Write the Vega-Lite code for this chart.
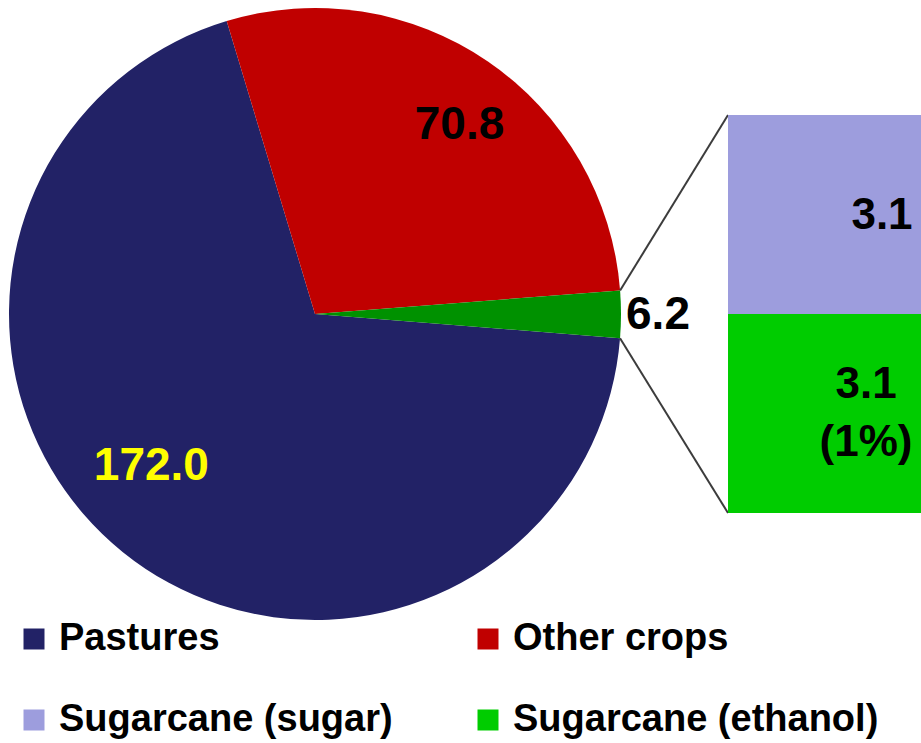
{
  "$schema": "https://vega.github.io/schema/vega-lite/v6.json",
  "width": 921,
  "height": 743,
  "autosize": "none",
  "padding": 0,
  "background": "white",
  "config": {"view": {"stroke": null}, "axis": {"disable": true}, "font": "Liberation Sans"},
  "datasets": {
    "pie": [
      {"category": "Pastures", "value": 172.0},
      {"category": "Other crops", "value": 70.8},
      {"category": "Sugarcane", "value": 6.2}
    ],
    "bar": [
      {"category": "Sugarcane (sugar)", "value": 3.1, "label": "3.1"},
      {"category": "Sugarcane (ethanol)", "value": 3.1, "label": "3.1\n(1%)"}
    ]
  },
  "layer": [
    {
      "data": {"name": "pie"},
      "layer": [
        {
          "mark": {"type": "arc", "outerRadius": 306, "stroke": null},
          "encoding": {
            "x": {"datum": 0, "type": "quantitative", "scale": {"domain": [-1.02941, 1.98039], "nice": false, "zero": false}},
            "y": {"datum": 0, "type": "quantitative", "scale": {"domain": [-1.40196, 1.02614], "nice": false, "zero": false}},
            "theta": {"field": "value", "type": "quantitative", "stack": true, "scale": {"range": [1.6502, 7.9334]}},
            "order": {"field": "value", "type": "quantitative", "sort": "descending"},
            "color": {
              "field": "category", "type": "nominal",
              "scale": {
                "domain": ["Pastures", "Other crops", "Sugarcane (sugar)", "Sugarcane (ethanol)", "Sugarcane"],
                "range": ["#222266", "#C00000", "#9D9DDD", "#00CC00", "#009100"]
              },
              "legend": {
                "values": ["Pastures", "Other crops", "Sugarcane (sugar)", "Sugarcane (ethanol)"],
                "orient": "none", "legendX": 15, "legendY": 620, "columns": 2, "direction": "horizontal", "title": null,
                "symbolType": "square", "symbolSize": 441, "symbolStrokeWidth": 0,
                "labelFont": "Liberation Sans", "labelFontSize": 38, "labelFontWeight": "bold", "labelColor": "black",
                "labelOffset": 6, "rowPadding": 43, "columnPadding": 76, "padding": 0, "labelLimit": 0
              }
            }
          }
        },
        {
          "mark": {"type": "text", "radius": 238, "dx": 10, "dy": 7, "fontSize": 46, "fontWeight": "bold", "font": "Liberation Sans", "color": "black"},
          "encoding": {
            "x": {"datum": 0, "type": "quantitative", "scale": {"domain": [-1.02941, 1.98039], "nice": false, "zero": false}},
            "y": {"datum": 0, "type": "quantitative", "scale": {"domain": [-1.40196, 1.02614], "nice": false, "zero": false}},
            "theta": {"field": "value", "type": "quantitative", "stack": true},
            "order": {"field": "value", "type": "quantitative", "sort": "descending"},
            "text": {"condition": {"test": "datum.category === 'Other crops'", "field": "value", "type": "quantitative", "format": ".1f"}, "value": ""}
          }
        },
        {
          "mark": {"type": "text", "radius": 224, "dx": -23, "dy": -22, "fontSize": 46, "fontWeight": "bold", "font": "Liberation Sans", "color": "#FFFF00"},
          "encoding": {
            "x": {"datum": 0, "type": "quantitative", "scale": {"domain": [-1.02941, 1.98039], "nice": false, "zero": false}},
            "y": {"datum": 0, "type": "quantitative", "scale": {"domain": [-1.40196, 1.02614], "nice": false, "zero": false}},
            "theta": {"field": "value", "type": "quantitative", "stack": true},
            "order": {"field": "value", "type": "quantitative", "sort": "descending"},
            "text": {"condition": {"test": "datum.category === 'Pastures'", "field": "value", "type": "quantitative", "format": ".1f"}, "value": ""}
          }
        },
        {
          "mark": {"type": "text", "radius": 343, "dy": 1, "fontSize": 46, "fontWeight": "bold", "font": "Liberation Sans", "color": "black"},
          "encoding": {
            "x": {"datum": 0, "type": "quantitative", "scale": {"domain": [-1.02941, 1.98039], "nice": false, "zero": false}},
            "y": {"datum": 0, "type": "quantitative", "scale": {"domain": [-1.40196, 1.02614], "nice": false, "zero": false}},
            "theta": {"field": "value", "type": "quantitative", "stack": true},
            "order": {"field": "value", "type": "quantitative", "sort": "descending"},
            "text": {"condition": {"test": "datum.category === 'Sugarcane'", "field": "value", "type": "quantitative", "format": ".1f"}, "value": ""}
          }
        },
        {
          "data": {"values": [{}]},
          "mark": {"type": "rule", "color": "#3C3C3C", "strokeWidth": 2},
          "encoding": {
            "x": {"datum": 0.99705, "type": "quantitative", "scale": {"domain": [-1.02941, 1.98039], "nice": false, "zero": false}},
            "y": {"datum": 0.0767, "type": "quantitative", "scale": {"domain": [-1.40196, 1.02614], "nice": false, "zero": false}},
            "x2": {"datum": 1.3497},
            "y2": {"datum": 0.6503}
          }
        },
        {
          "data": {"values": [{}]},
          "mark": {"type": "rule", "color": "#3C3C3C", "strokeWidth": 2},
          "encoding": {
            "x": {"datum": 0.99685, "type": "quantitative", "scale": {"domain": [-1.02941, 1.98039], "nice": false, "zero": false}},
            "y": {"datum": -0.0793, "type": "quantitative", "scale": {"domain": [-1.40196, 1.02614], "nice": false, "zero": false}},
            "x2": {"datum": 1.3497},
            "y2": {"datum": -0.6503}
          }
        }
      ]
    },
    {
      "data": {"name": "bar"},
      "transform": [
        {"stack": "value", "groupby": [], "sort": [{"field": "category", "order": "ascending"}], "as": ["y0", "y1"]}
      ],
      "layer": [
        {
          "mark": {"type": "rect", "stroke": null},
          "encoding": {
            "x": {"datum": 1.3497, "type": "quantitative", "scale": {"domain": [-1.02941, 1.98039], "nice": false, "zero": false}},
            "x2": {"datum": 1.9804},
            "y": {"field": "y0", "type": "quantitative", "scale": {"domain": [-3.5829, 7.9915], "nice": false, "zero": false}},
            "y2": {"field": "y1"},
            "color": {
              "field": "category", "type": "nominal",
              "scale": {
                "domain": ["Pastures", "Other crops", "Sugarcane (sugar)", "Sugarcane (ethanol)", "Sugarcane"],
                "range": ["#222266", "#C00000", "#9D9DDD", "#00CC00", "#009100"]
              },
              "legend": {
                "values": ["Pastures", "Other crops", "Sugarcane (sugar)", "Sugarcane (ethanol)"],
                "orient": "none", "legendX": 15, "legendY": 620, "columns": 2, "direction": "horizontal", "title": null,
                "symbolType": "square", "symbolSize": 441, "symbolStrokeWidth": 0,
                "labelFont": "Liberation Sans", "labelFontSize": 38, "labelFontWeight": "bold", "labelColor": "black",
                "labelOffset": 6, "rowPadding": 43, "columnPadding": 76, "padding": 0, "labelLimit": 0
              }
            }
          }
        },
        {
          "transform": [{"filter": "datum.category === 'Sugarcane (sugar)'"}],
          "mark": {"type": "text", "fontSize": 44, "fontWeight": "bold", "font": "Liberation Sans", "color": "black", "dy": 101, "lineBreak": "\n"},
          "encoding": {
            "x": {"datum": 1.8529, "type": "quantitative", "scale": {"domain": [-1.02941, 1.98039], "nice": false, "zero": false}},
            "y": {"field": "y1", "type": "quantitative", "scale": {"domain": [-3.5829, 7.9915], "nice": false, "zero": false}},
            "text": {"field": "label"}
          }
        },
        {
          "transform": [{"filter": "datum.category === 'Sugarcane (ethanol)'"}],
          "mark": {"type": "text", "fontSize": 44, "fontWeight": "bold", "font": "Liberation Sans", "color": "black", "dy": 71, "lineBreak": "\n", "lineHeight": 58},
          "encoding": {
            "x": {"datum": 1.8007, "type": "quantitative", "scale": {"domain": [-1.02941, 1.98039], "nice": false, "zero": false}},
            "y": {"field": "y1", "type": "quantitative", "scale": {"domain": [-3.5829, 7.9915], "nice": false, "zero": false}},
            "text": {"field": "label"}
          }
        }
      ]
    }
  ],
  "resolve": {"scale": {"y": "independent"}}
}
